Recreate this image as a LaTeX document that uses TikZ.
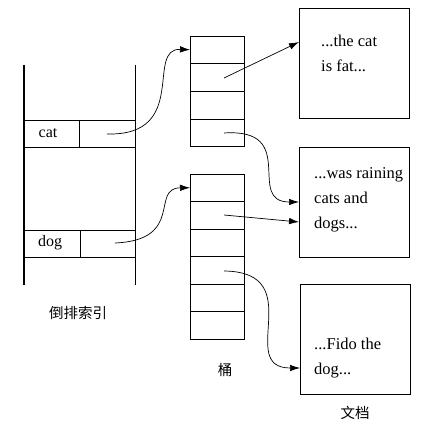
\documentclass[tikz,border=0pt]{standalone}
\usepackage{fontspec}
\setmainfont{Liberation Serif}
\newfontfamily\serif{Liberation Serif}
\newfontfamily\cjk{Noto Sans CJK SC}
\usetikzlibrary{arrows.meta}
\begin{document}
\begin{tikzpicture}[x=1pt,y=-1pt,
  ln/.style={line width=0.8pt},
  cell/.style={minimum width=54pt,minimum height=27.5pt,inner sep=0pt,outer sep=0pt,anchor=north west},
  doc/.style={draw,line width=0.8pt,minimum width=110pt,minimum height=110pt,inner sep=0pt,anchor=north west},
  txt/.style={font=\serif\fontsize{16.5}{25}\selectfont,align=left,anchor=north west,inner sep=0pt},
  lbl/.style={font=\serif\fontsize{16}{16}\selectfont,inner sep=0pt},
  cn/.style={font=\cjk\fontsize{14.5}{16}\selectfont,inner sep=0pt},
  arr/.style={line width=0.7pt,-{Latex[length=10pt,width=6.5pt]}}]
\useasboundingbox (0,0) rectangle (429,425);
% inverted index
\draw[line width=1.1pt] (24,65) -- (24,285);
\draw[ln] (135,65) -- (135,285);
\draw[ln] (24,120) -- (135,120) (24,147) -- (135,147) (79,120) -- (79,147);
\draw[ln] (24,230) -- (135,230) (24,257) -- (135,257) (80,230) -- (80,257);
\node[lbl] (cat) at (48,133) {cat};
\node[lbl] (dog) at (50,243) {dog};
\coordinate (catp) at (107,134);
\coordinate (dogp) at (115,243);
\node[cn] (idx) at (78,313) {倒排索引};
% bucket column 1
\foreach \i in {0,...,3} {
  \node[cell] (a\i) at (190,{36+\i*27.75}) {};
}
\draw[ln] (a0.north west) rectangle (a3.south east);
\foreach \i in {1,2,3} { \draw[ln] (a\i.north west) -- (a\i.north east); }
% bucket column 2
\foreach \i in {0,...,5} {
  \node[cell] (b\i) at (190,{174+\i*27.5}) {};
}
\draw[ln] (b0.north west) rectangle (b5.south east);
\foreach \i in {1,...,5} { \draw[ln] (b\i.north west) -- (b\i.north east); }
\node[cn] (tong) at (225,370) {桶};
% documents
\node[doc] (d1) at (299,8) {};
\node[doc] (d2) at (299,147) {};
\node[doc] (d3) at (300,284) {};
\node[txt] (t1) at (321,35) {...the cat\\is fat...};
\node[txt] (t2) at (314,167) {...was raining\\cats and\\dogs...};
\node[txt] (t3) at (314,338) {...Fido the\\dog...};
\node[cn] (wd) at (355,413) {文档};
% connectors
\coordinate (a1p) at (224,78);
\coordinate (a3p) at (224,133);
\coordinate (b1p) at (224,215);
\coordinate (b3p) at (224,271);
\draw[arr] (catp) .. controls (190,136) and (145,48) .. (a0.west);
\draw[arr] (dogp) .. controls (185,240) and (150,188) .. (b0.west);
\draw[arr] (a1p) -- (d1.west |- 0,42);
\draw[arr] (a3p) .. controls (300,128) and (245,202) .. (d2.west |- 0,202);
\draw[arr] (b1p) -- (d2.west |- 0,222);
\draw[arr] (b3p) .. controls (310,272) and (235,368) .. (d3.west |- 0,368);
\end{tikzpicture}
\end{document}
